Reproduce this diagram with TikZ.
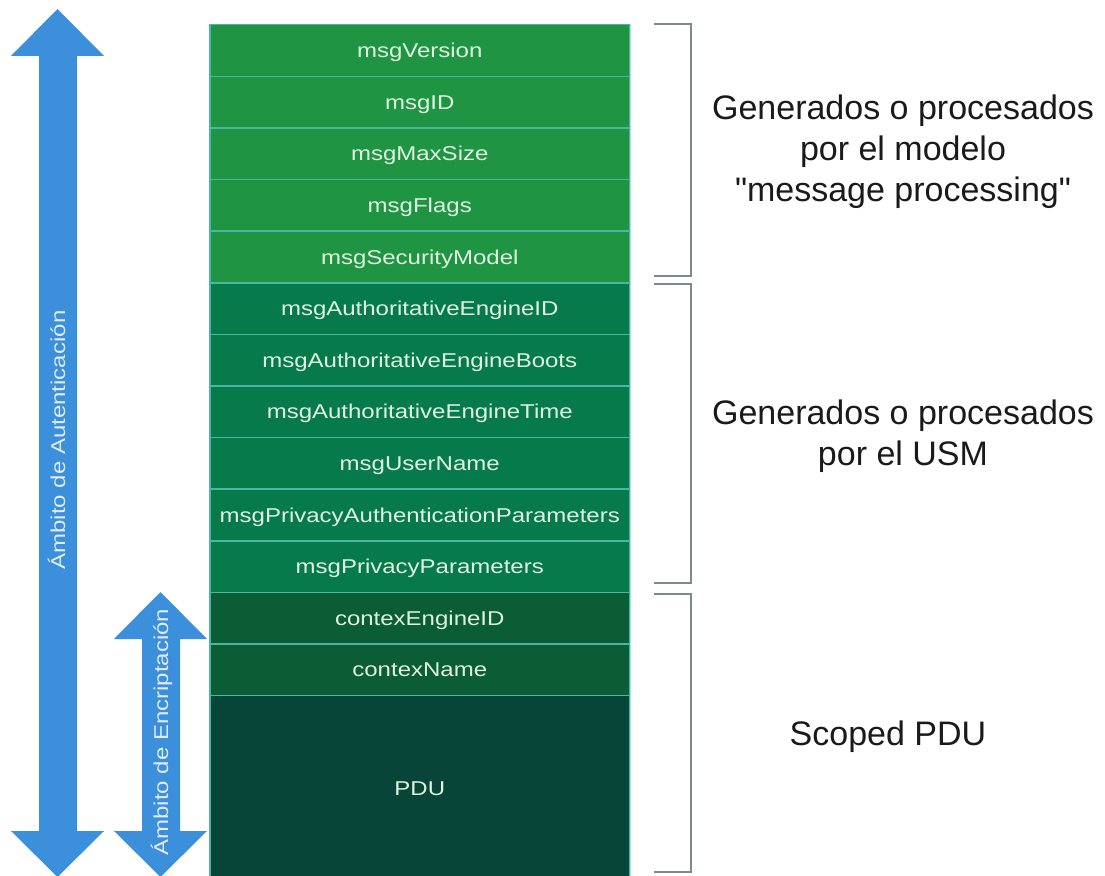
\documentclass[tikz,border=0pt]{standalone}
\usepackage{fontspec}
\setmainfont{Liberation Sans}
\newfontfamily\rowfont[FakeStretch=1.2]{Liberation Sans}
\newfontfamily\sidefont[Ligatures=TeXOff]{Liberation Sans}
\definecolor{gA}{HTML}{1F9543}
\definecolor{gB}{HTML}{077A4B}
\definecolor{gC}{HTML}{0B5D36}
\definecolor{gD}{HTML}{064537}
\definecolor{sepc}{HTML}{4DB6A2}
\definecolor{edgec}{HTML}{A6E3E0}
\definecolor{arr}{HTML}{3B8FDB}
\definecolor{brk}{HTML}{7D8A8C}
\definecolor{rowtxt}{HTML}{E0F3E0}
\definecolor{arrtxt}{HTML}{E1ECF7}
\definecolor{sidetxt}{HTML}{1A1A1A}
\begin{document}
\begin{tikzpicture}[x=1pt,y=-1pt,
  field/.style={draw=sepc, line width=1.5pt, minimum width=420pt, minimum height=51.6pt,
    anchor=north west, inner sep=0pt, text height=14.4pt, text depth=0pt, text=rowtxt,
    font=\rowfont\fontsize{20}{24}\selectfont},
  fa/.style={field, fill=gA},
  fb/.style={field, fill=gB},
  fc/.style={field, fill=gC},
  arrowshape/.style={fill=arr},
  arrlabel/.style={rotate=90, inner sep=0pt, text height=14.4pt, text depth=0pt, text=arrtxt,
    font=\rowfont\fontsize{20}{24}\selectfont},
  bracket/.style={draw=brk, line width=2pt},
  side/.style={align=center, inner sep=0pt, text=sidetxt, font=\sidefont\fontsize{34}{41}\selectfont}]
\useasboundingbox (0,0) rectangle (1105,875);
\fill[white] (0,0) rectangle (1105,875);

% authentication arrow
\fill[arrowshape] (57.5,9) -- (104,56) -- (77,56) -- (77,831) -- (104,831) -- (57.5,877)
  -- (11,831) -- (39,831) -- (39,56) -- (11,56) -- cycle;
% encryption arrow
\fill[arrowshape] (160.5,592) -- (207,639) -- (180,639) -- (180,831) -- (207,831) -- (160.5,877)
  -- (114,831) -- (142,831) -- (142,639) -- (114,639) -- cycle;
\node[arrlabel] (auth) at (58,440) {Ámbito de Autenticación};
\node[arrlabel] (enc) at (161,732) {Ámbito de Encriptación};

% fields
\node[fa] (r1) at (209,24.0) {msgVersion};
\node[fa] (r2) at (209,75.6) {msgID};
\node[fa] (r3) at (209,127.2) {msgMaxSize};
\node[fa] (r4) at (209,178.8) {msgFlags};
\node[fa] (r5) at (209,230.4) {msgSecurityModel};
\node[fb] (r6) at (209,282.0) {msgAuthoritativeEngineID};
\node[fb] (r7) at (209,333.6) {msgAuthoritativeEngineBoots};
\node[fb] (r8) at (209,385.2) {msgAuthoritativeEngineTime};
\node[fb] (r9) at (209,436.8) {msgUserName};
\node[fb] (r10) at (209,488.4) {msgPrivacyAuthenticationParameters};
\node[fb] (r11) at (209,540.0) {msgPrivacyParameters};
\node[fc] (r12) at (209,591.6) {contexEngineID};
\node[fc] (r13) at (209,643.2) {contexName};
\node[field, fill=gD, minimum height=185pt] (pdu) at (209,694.8) {PDU};
\draw[edgec, line width=1.5pt] (r1.north east) -- (pdu.south east);

% brackets
\draw[bracket] (654,24) -- (691,24) -- (691,276) -- (654,276);
\draw[bracket] (654,284) -- (691,284) -- (691,583) -- (654,583);
\draw[bracket] (654,594) -- (691,594) -- (691,872) -- (654,872);

% side labels
\node[side] (mp) at (903,152) {Generados o procesados\\por el modelo\\"message processing"};
\node[side] (usm) at (903,436.5) {Generados o procesados\\por el USM};
\node[side, anchor=base] (spdu) at (888,745) {Scoped PDU};
\end{tikzpicture}
\end{document}
